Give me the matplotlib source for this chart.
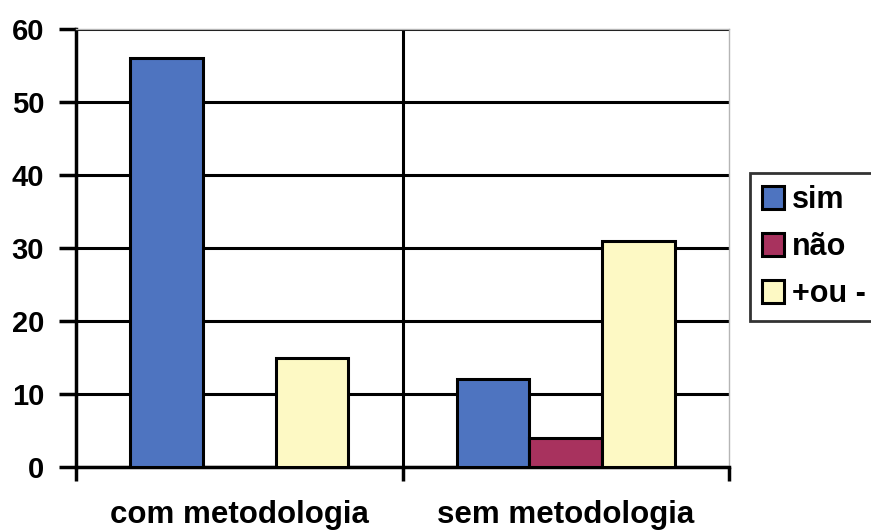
import numpy as np
import matplotlib
matplotlib.use("Agg")
import matplotlib.pyplot as plt

# dados do grafico
categorias = ["com metodologia", "sem metodologia"]
series = ["sim", "não", "+ou -"]
sim = [56, 12]
nao = [0, 4]
mais_ou_menos = [15, 31]
cores = ["#4e74c0", "#a8325e", "#fdf9c4"]

plt.rcParams["font.family"] = ["Liberation Sans", "DejaVu Sans"]
plt.rcParams["font.weight"] = "bold"

fig = plt.figure(figsize=(8.71, 5.30), dpi=100)
ax = fig.add_axes([76 / 871, 1 - 467 / 530, (729 - 76) / 871, (467 - 29) / 530])

x = np.arange(len(categorias))
w = 1 / 4.5
for i, (valores, nome) in enumerate(zip([sim, nao, mais_ou_menos], series)):
    ax.bar(x + (i - 1) * w, valores, w, color=cores[i], edgecolor="black",
           linewidth=2.2, label=nome, zorder=3)

ax.set_xlim(-0.5, 1.5)
ax.set_ylim(0, 60)
ax.set_yticks(range(0, 61, 10))
ax.yaxis.grid(True, color="black", linewidth=2.2)
ax.axvline(0.5, color="black", linewidth=2.2, zorder=1)
ax.set_axisbelow(True)

ax.set_xticks(x)
ax.set_xticklabels(categorias, fontsize=22.5, fontweight="bold")
ax.set_xticks([-0.5, 0.5, 1.5], minor=True)
ax.tick_params(axis="x", which="major", length=0, pad=24)
ax.tick_params(axis="x", which="minor", length=10, width=2.5, direction="out")
ax.tick_params(axis="y", length=12, width=2.5, direction="out", labelsize=21, pad=11)

for s in ["left", "bottom"]:
    ax.spines[s].set_linewidth(2.5)
    ax.spines[s].set_color("black")
for s in ["top", "right"]:
    ax.spines[s].set_linewidth(1)
    ax.spines[s].set_color("#b5b5b5")

leg = fig.legend(loc="upper left", bbox_to_anchor=(750 / 871, 1 - 173 / 530),
                 frameon=True, fancybox=False, edgecolor="black",
                 prop={"size": 22, "weight": "bold"}, handlelength=0.72,
                 handleheight=0.78, handletextpad=0.25, labelspacing=0.55,
                 borderpad=0.4, borderaxespad=0)
leg.get_frame().set_linewidth(2)
for h in leg.legend_handles:
    h.set_linewidth(2.2)

fig.savefig("out.png", dpi=100)
